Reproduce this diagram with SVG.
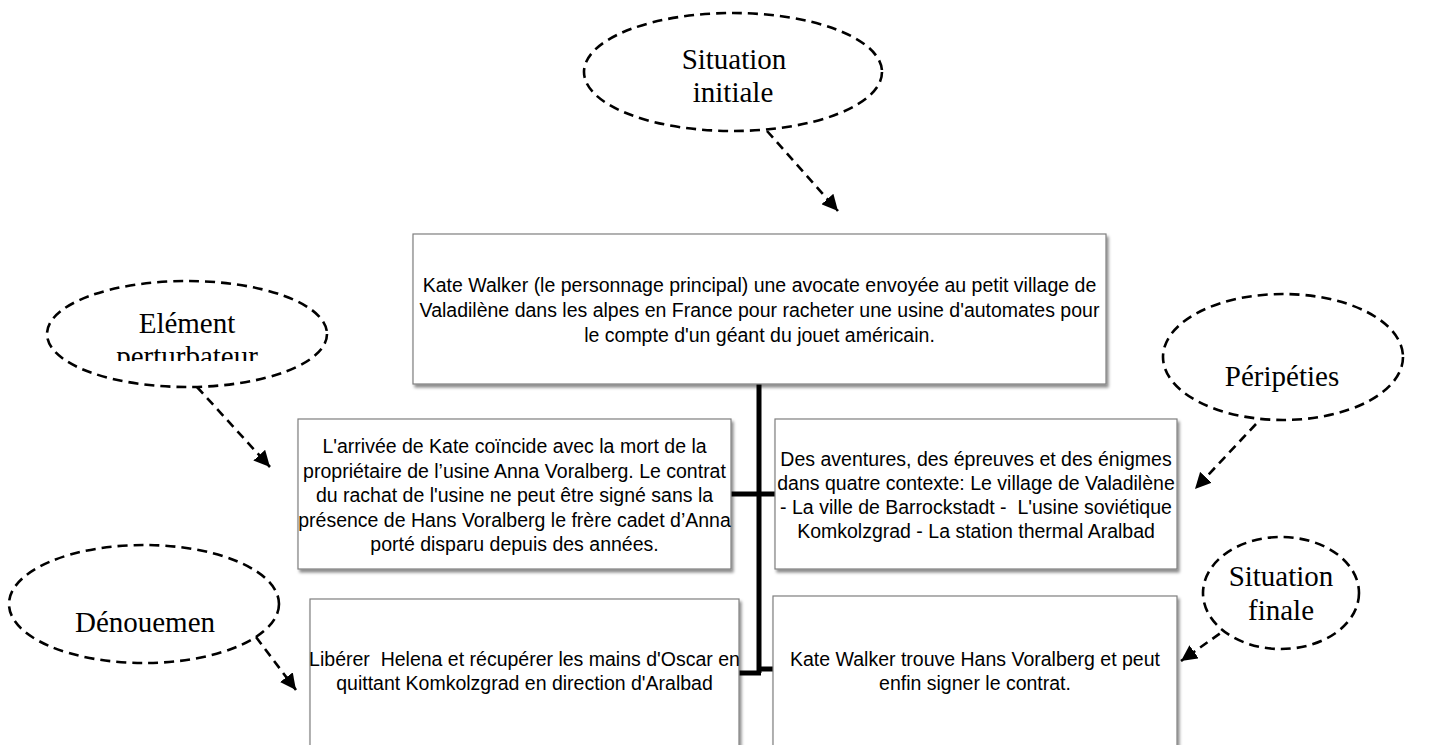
<svg xmlns="http://www.w3.org/2000/svg" width="1437" height="745" viewBox="0 0 1437 745">
<defs>
<style>
.box{fill:#fff;stroke:#7f7f7f;stroke-width:1.2;filter:url(#sh)}
.bt{font-family:"Liberation Sans",Arial,sans-serif;font-size:19.5px;fill:#000;text-anchor:middle}
.ell{fill:#fff;stroke:#000;stroke-width:2.6;stroke-dasharray:10 6}
.et{font-family:"Liberation Serif","Times New Roman",serif;font-size:29px;fill:#000;text-anchor:middle}
.arr{fill:none;stroke:#000;stroke-width:2.6;stroke-dasharray:9 6;marker-end:url(#ah)}
.spine{stroke:#000;stroke-width:5;fill:none}
</style>
<filter id="sh" x="-5%" y="-5%" width="112%" height="115%"><feDropShadow dx="2" dy="3" stdDeviation="1.5" flood-color="#000" flood-opacity="0.45"/></filter>
<marker id="ah" markerUnits="userSpaceOnUse" markerWidth="18" markerHeight="16" refX="16" refY="8" orient="auto" viewBox="0 0 18 16"><path d="M0,0 L16,8 L0,16 z" fill="#000"/></marker>
<clipPath id="clipE"><rect x="40" y="270" width="300" height="91"/></clipPath>
</defs>
<rect width="1437" height="745" fill="#fff"/>

<g id="connectors">
<line class="spine" x1="759" y1="384" x2="759" y2="673"/>
<line class="spine" x1="730" y1="494" x2="776" y2="494"/>
<line class="spine" x1="738" y1="673" x2="761" y2="673"/>
<line class="spine" x1="759" y1="669" x2="774" y2="669"/>
<line class="arr" x1="767" y1="131" x2="838" y2="211"/>
<line class="arr" x1="197" y1="387" x2="270" y2="467"/>
<line class="arr" x1="1256" y1="424" x2="1195" y2="489"/>
<line class="arr" x1="256" y1="637" x2="296" y2="690"/>
<line class="arr" x1="1232" y1="625" x2="1181" y2="661"/>
</g>

<g id="n-top">
<rect class="box" x="413" y="234" width="693" height="150"/>
<text class="bt" x="759.5" y="292">Kate Walker (le personnage principal) une avocate envoyée au petit village de</text>
<text class="bt" x="759.5" y="317">Valadilène dans les alpes en France pour racheter une usine d'automates pour</text>
<text class="bt" x="759.5" y="342">le compte d'un géant du jouet américain.</text>
</g>

<g id="n-perturb">
<rect class="box" x="298" y="419" width="433" height="150"/>
<text class="bt" x="514.5" y="453">L'arrivée de Kate coïncide avec la mort de la</text>
<text class="bt" x="514.5" y="478">propriétaire de l’usine Anna Voralberg. Le contrat</text>
<text class="bt" x="514.5" y="502">du rachat de l'usine ne peut être signé sans la</text>
<text class="bt" x="514.5" y="527">présence de Hans Voralberg le frère cadet d’Anna</text>
<text class="bt" x="514.5" y="551">porté disparu depuis des années.</text>
</g>

<g id="n-peripeties">
<rect class="box" x="775" y="419" width="402" height="150"/>
<text class="bt" x="976" y="466">Des aventures, des épreuves et des énigmes</text>
<text class="bt" x="976" y="490">dans quatre contexte: Le village de Valadilène</text>
<text class="bt" x="976" y="514" xml:space="preserve">- La ville de Barrockstadt -  L'usine soviétique</text>
<text class="bt" x="976" y="538">Komkolzgrad - La station thermal Aralbad</text>
</g>

<g id="n-denouement">
<rect class="box" x="310" y="599" width="429" height="160"/>
<text class="bt" x="524.5" y="666" xml:space="preserve">Libérer  Helena et récupérer les mains d'Oscar en</text>
<text class="bt" x="524.5" y="690">quittant Komkolzgrad en direction d'Aralbad</text>
</g>

<g id="n-final">
<rect class="box" x="773" y="596" width="404" height="163"/>
<text class="bt" x="975" y="666">Kate Walker trouve Hans Voralberg et peut</text>
<text class="bt" x="975" y="690">enfin signer le contrat.</text>
</g>

<g id="e-initiale">
<ellipse class="ell" cx="733" cy="72" rx="149" ry="59"/>
<text class="et" x="734" y="69">Situation</text>
<text class="et" x="733" y="102">initiale</text>
</g>

<g id="e-perturbateur">
<ellipse class="ell" cx="187" cy="334" rx="140" ry="53"/>
<text class="et" x="187" y="333">Elément</text>
<text class="et" x="187" y="366" clip-path="url(#clipE)">perturbateur</text>
</g>

<g id="e-peripeties">
<ellipse class="ell" cx="1283" cy="357" rx="120" ry="63"/>
<text class="et" x="1282" y="386">Péripéties</text>
</g>

<g id="e-denouement">
<ellipse class="ell" cx="144" cy="604" rx="135" ry="59"/>
<text class="et" x="145" y="632">Dénouemen</text>
</g>

<g id="e-finale">
<ellipse class="ell" cx="1281" cy="593" rx="78" ry="56"/>
<text class="et" x="1281" y="586">Situation</text>
<text class="et" x="1281" y="620">finale</text>
</g>
</svg>
